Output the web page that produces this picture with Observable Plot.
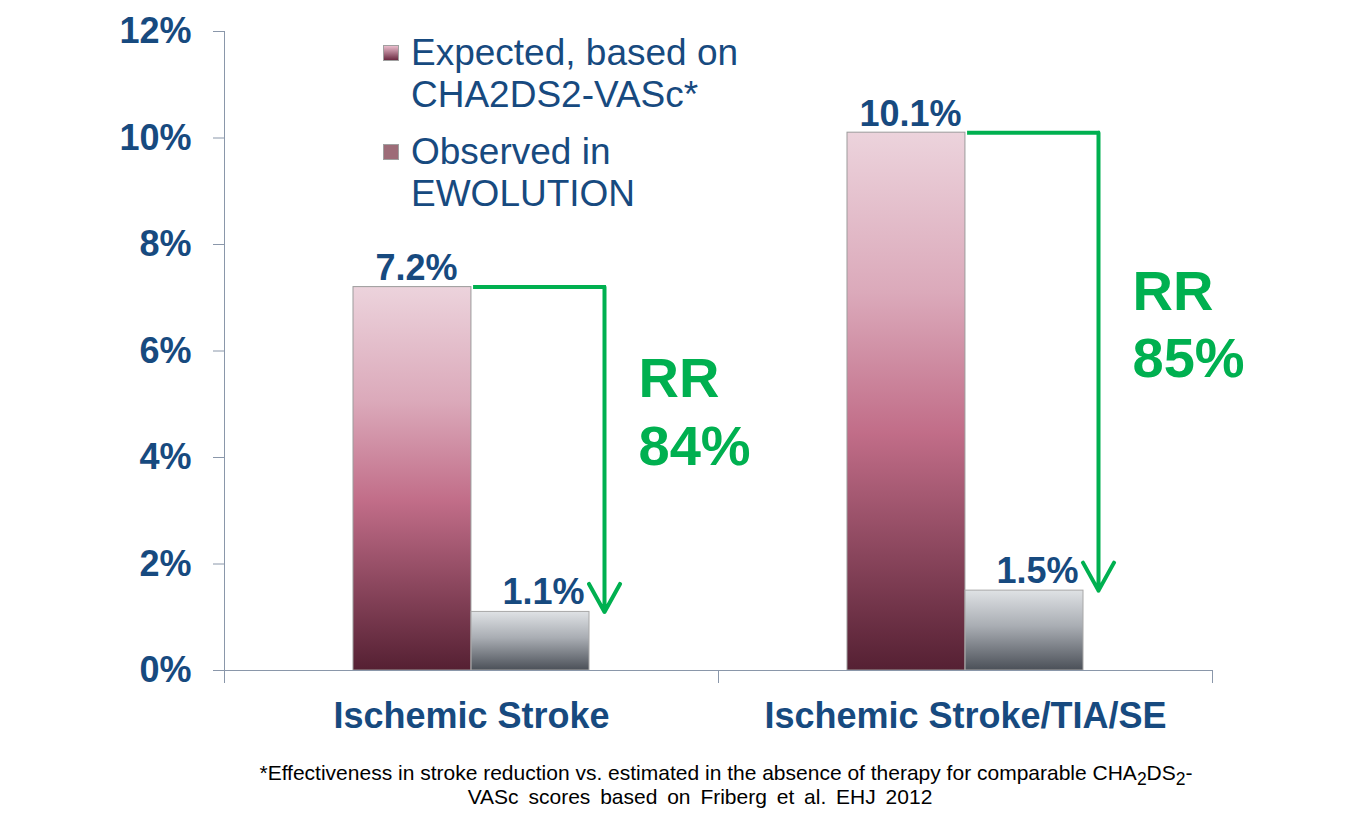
<!DOCTYPE html>
<html><head><meta charset="utf-8">
<script src="https://cdn.jsdelivr.net/npm/d3@7"></script>
<script src="https://cdn.jsdelivr.net/npm/@observablehq/plot@0.6"></script>
<style>
body{margin:0;background:#fff;font-family:"Liberation Sans",Arial,sans-serif;}
#wrap{position:relative;width:1362px;height:824px;overflow:hidden;}
#chart{position:absolute;left:0;top:0;}
#legend{position:absolute;left:383px;top:32px;}
.item{display:flex;align-items:flex-start;margin-bottom:15px;}
.sw{width:16px;height:16px;margin-top:13px;margin-right:12px;border:1px solid #a0a0a0;box-sizing:border-box;flex:none}
.lt{font-size:37px;line-height:42px;color:#174a7f;white-space:pre-line}
.cap{position:absolute;left:0;text-align:center;font-family:"Liberation Sans Narrow","Arial Narrow","Liberation Sans",sans-serif;font-size:21px;line-height:24px;color:#000;white-space:nowrap}
</style></head><body>
<div id="wrap"><div id="chart"></div><div id="legend"></div>
<div class="cap" id="cap1" style="top:761px;width:1452px"></div>
<div class="cap" id="cap2" style="top:785px;width:1400px;word-spacing:4px"></div>
</div>
<script>
const categories = ["Ischemic Stroke", "Ischemic Stroke/TIA/SE"];
const expected = [7.2, 10.1];
const observed = [1.1, 1.5];
const relativeReduction = [84, 85];
const seriesNames = ["Expected, based on\nCHA2DS2-VASc*", "Observed in\nEWOLUTION"];
const yTicks = [0, 2, 4, 6, 8, 10, 12];
const captionLine1 = "*Effectiveness in stroke reduction vs. estimated in the absence of therapy for comparable CHA<sub>2</sub>DS<sub>2</sub>-";
const captionLine2 = "VASc scores based on Friberg et al. EHJ 2012";

const rows = categories.map((c, i) => ({category: c, expected: expected[i], observed: observed[i], rr: relativeReduction[i]}));

const W = 1362, H = 750;
const mL = 224, mR = 150, mT = 31, mB = 80;
const padIn = 0.522, padOut = 0.261;
const step = (W - mL - mR) / (categories.length - padIn + 2 * padOut);
const bw = step * (1 - padIn);
const barW = bw / 2;

const blue = "#174a7f", axisCol = "#8a97aa", green = "#00b050";

const defs = () => {
  const ns = "http://www.w3.org/2000/svg";
  const d = document.createElementNS(ns, "defs");
  d.innerHTML = `<linearGradient id="gExp" x1="0" y1="0" x2="0" y2="1">
      <stop offset="0" stop-color="#ecd3dc"/><stop offset="0.3" stop-color="#dba9ba"/>
      <stop offset="0.56" stop-color="#c16d88"/><stop offset="1" stop-color="#552033"/></linearGradient>
    <linearGradient id="gObs" x1="0" y1="0" x2="0" y2="1">
      <stop offset="0" stop-color="#dfe2e5"/><stop offset="0.45" stop-color="#a9adb3"/><stop offset="1" stop-color="#4b5058"/></linearGradient>`;
  return d;
};

const chart = Plot.plot({
  width: W, height: H,
  marginLeft: mL, marginRight: mR, marginTop: mT, marginBottom: mB,
  style: {fontFamily: "'Liberation Sans', Arial, sans-serif", background: "transparent", overflow: "visible"},
  x: {domain: categories, paddingInner: padIn, paddingOuter: padOut, label: null},
  y: {domain: [0, 12], label: null},
  marks: [
    defs,
    Plot.frame({anchor: "left", stroke: axisCol}),
    Plot.axisY({ticks: yTicks, tickSize: 11, color: axisCol, tickFormat: () => "", label: null}),
    Plot.axisY({ticks: yTicks, tickSize: 0, tickPadding: 33, color: blue, fontSize: 36, fontWeight: "bold", tickFormat: d => d + "%", label: null}),
    Plot.axisX({tickSize: 0, tickPadding: 32, color: blue, fontSize: 36, fontWeight: "bold", label: null}),
    Plot.barY(rows, {x: "category", y: "expected", fill: "url(#gExp)", stroke: "#9b9b9b", strokeWidth: 1, insetRight: barW}),
    Plot.barY(rows, {x: "category", y: "observed", fill: "url(#gObs)", stroke: "#a8a8a8", strokeWidth: 1, insetLeft: barW}),
    Plot.ruleY([0], {stroke: axisCol}),
    Plot.ruleX(rows, {x: "category", y1: 0, y2: 0, insetBottom: -13, dx: -step / 2, stroke: axisCol}),
    Plot.ruleX(rows.slice(-1), {x: "category", y1: 0, y2: 0, insetBottom: -13, dx: step / 2, stroke: axisCol}),
    Plot.text(rows, {x: "category", y: "expected", text: d => d.expected.toFixed(1) + "%", dx: -barW / 2 + 4, dy: -7, lineAnchor: "bottom", fontSize: 36, fontWeight: "bold", fill: blue}),
    Plot.text(rows, {x: "category", y: "observed", text: d => d.observed.toFixed(1) + "%", dx: barW / 2 + 13, dy: -8, lineAnchor: "bottom", fontSize: 36, fontWeight: "bold", fill: blue}),
    Plot.ruleY(rows, {y: "expected", x1: "category", x2: "category", insetLeft: barW + 4, insetRight: barW - 133, stroke: green, strokeWidth: 4, strokeLinecap: "square"}),
    Plot.arrow(rows, {x: "category", y1: "expected", y2: "observed", dx: 133, stroke: green, strokeWidth: 4, headAngle: 58, headLength: 12}),
    Plot.text(rows, {x: "category", y: d => (d.expected + d.observed) / 2, text: d => `RR\n${d.rr}%`, dx: 167, dy: -40, textAnchor: "start", lineAnchor: "middle", lineHeight: 1.2, fontSize: 56, fontWeight: "bold", fill: green})
  ]
});
document.getElementById("chart").appendChild(chart);

const legend = document.getElementById("legend");
const swatches = ["linear-gradient(#eabccc, #6b2a41)", "#9d6c78"];
seriesNames.forEach((n, i) => {
  const it = document.createElement("div"); it.className = "item";
  const sw = document.createElement("div"); sw.className = "sw"; sw.style.background = swatches[i];
  const t = document.createElement("div"); t.className = "lt"; t.textContent = n;
  it.append(sw, t); legend.append(it);
});
document.getElementById("cap1").innerHTML = captionLine1;
document.getElementById("cap2").textContent = captionLine2;
</script>
</body></html>
